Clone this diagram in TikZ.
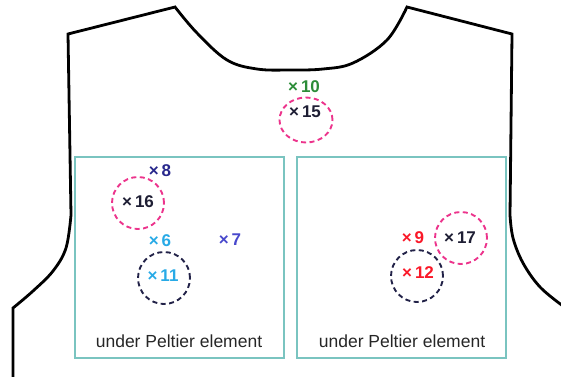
\documentclass[tikz,border=0pt]{standalone}
\usepackage{fontspec}
\setmainfont{Liberation Sans}
\usetikzlibrary{shapes.geometric}

\definecolor{peltier}{RGB}{122,196,192}
\definecolor{ringpink}{RGB}{236,52,140}
\definecolor{ringnavy}{RGB}{34,34,72}
\definecolor{pgreen}{RGB}{44,140,56}
\definecolor{pnavy}{RGB}{40,40,140}
\definecolor{plight}{RGB}{40,170,230}
\definecolor{pblue}{RGB}{72,72,204}
\definecolor{pred}{RGB}{250,24,40}
\definecolor{pblack}{RGB}{30,30,52}

\begin{document}
\begin{tikzpicture}[x=1pt,y=-1pt,
  outline/.style={line width=2.8pt,black,line join=miter},
  pbox/.style={line width=1.5pt,peltier},
  probe/.style={inner sep=0pt,font=\fontsize{17}{20}\selectfont\bfseries},
  boxlabel/.style={inner sep=0pt,anchor=base,font=\fontsize{17.5}{21}\selectfont,black!85},
  ring/.style={circle,draw,line width=1.9pt,dash pattern=on 5pt off 3.5pt,minimum size=52pt,inner sep=0pt},
  pinkring/.style={ring,ringpink},
  navyring/.style={ring,ringnavy}]

\useasboundingbox (0,0) rectangle (561,376);

% vest outline
\draw [outline] (13,378) -- (13,308)
  -- plot[smooth, tension=.6] coordinates {(13,308) (33,291) (53,271) (66,248) (71,215)}
  -- (68,34) -- (175,7)
  -- plot[smooth, tension=.6] coordinates {(175,7) (197,33) (227,60) (257,69) (290,70) (323,69) (353,63) (387,40) (407,7)}
  -- (512,34) -- (510,215)
  -- plot[smooth, tension=.6] coordinates {(510,215) (513,238) (523,263) (540,287) (563,306)};

% peltier elements
\draw [pbox] (75,157) rectangle (284,358);
\draw [pbox] (297,157) rectangle (506,358);
\node[boxlabel] (lab1) at (179,347) {under Peltier element};
\node[boxlabel] (lab2) at (402,347) {under Peltier element};

% measuring points
\node[probe,pgreen] (p10) at (304,87) {×\hspace{3pt}10};
\node[probe,pblack] (p15) at (305,112) {×\hspace{3pt}15};
\node[probe,pnavy] (p8) at (160,171) {×\hspace{3pt}8};
\node[probe,pblack] (p16) at (138,202) {×\hspace{3pt}16};
\node[probe,plight] (p6) at (160,241) {×\hspace{3pt}6};
\node[probe,pblue] (p7) at (230,240) {×\hspace{3pt}7};
\node[probe,plight] (p11) at (163,276) {×\hspace{3pt}11};
\node[probe,pred] (p9) at (413,238) {×\hspace{3pt}9};
\node[probe,pblack] (p17) at (460,238) {×\hspace{3pt}17};
\node[probe,pred] (p12) at (418,273) {×\hspace{3pt}12};

% rings
\node[pinkring,ellipse,minimum width=53pt,minimum height=45pt] (r15) at (306,120) {};
\node[pinkring] (r16) at (138,203) {};
\node[navyring] (r11) at (164,278) {};
\node[pinkring] (r17) at (461,238) {};
\node[navyring] (r12) at (417,276) {};

\end{tikzpicture}
\end{document}
